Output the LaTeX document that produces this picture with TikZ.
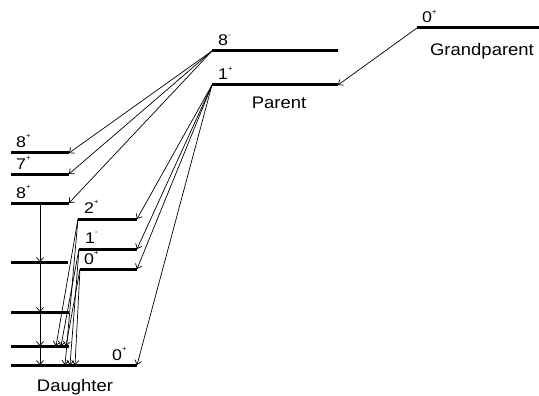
\documentclass[tikz,border=0pt]{standalone}
\usepackage{fontspec}
\setmainfont{Liberation Sans}
\usetikzlibrary{arrows.meta}
\newcommand{\lvlab}[2]{\scalebox{1.15}[1]{#1}\raisebox{1.0ex}{\fontsize{7.5}{7.5}\selectfont #2}}
\newcommand{\ttl}[1]{\scalebox{1.1}[1]{#1}}
\tikzset{
  level/.style={line width=3pt},
  trans/.style={line width=0.7pt,-{Straight Barb[length=4pt,width=7pt]}},
  lab/.style={anchor=base west,inner sep=0pt,font=\fontsize{15.5}{18}\selectfont},
  title/.style={anchor=base,inner sep=0pt,font=\fontsize{16.8}{20}\selectfont}
}
\begin{document}
\begin{tikzpicture}[x=1pt,y=-1pt]
\useasboundingbox (0,0) rectangle (539,396);
% grandparent
\coordinate (gpL) at (417,28); \coordinate (gpR) at (539,28);
% parent
\coordinate (p8L) at (212,51); \coordinate (p8R) at (338,51);
\coordinate (p1L) at (212,85); \coordinate (p1R) at (338,85);
% daughter left column
\coordinate (da1L) at (11,153); \coordinate (da1R) at (69,153);
\coordinate (da2L) at (11,174); \coordinate (da2R) at (69,174);
\coordinate (da3L) at (11,203); \coordinate (da3R) at (69,203);
\coordinate (da4L) at (11,262); \coordinate (da4R) at (68,262);
\coordinate (da5L) at (11,312); \coordinate (da5R) at (69,312);
\coordinate (da6L) at (11,346); \coordinate (da6R) at (69,346);
\coordinate (g0L) at (11,365); \coordinate (g0R) at (137,365);
% daughter second column
\coordinate (db1L) at (78,219); \coordinate (db1R) at (137,219);
\coordinate (db2L) at (79,249); \coordinate (db2R) at (137,249);
\coordinate (db3L) at (80,269); \coordinate (db3R) at (137,269);

\foreach \a in {gp,p8,p1,da1,da2,da3,da4,da5,da6,g0,db1,db2,db3}
  \draw[level] (\a L) -- (\a R);

% labels
\node[lab] (lgp) at (422,23) {\lvlab{0}{+}};
\node[title] (tgp) at (482,56) {\ttl{Grandparent}};
\node[lab] (lp8) at (218,46) {\lvlab{8}{-}};
\node[lab] (lp1) at (218,80) {\lvlab{1}{+}};
\node[title] (tp) at (279,109) {\ttl{Parent}};
\node[lab] (lda1) at (16,147) {\lvlab{8}{+}};
\node[lab] (lda2) at (16,169) {\lvlab{7}{+}};
\node[lab] (lda3) at (16,198) {\lvlab{8}{+}};
\node[lab] (ldb1) at (84,213) {\lvlab{2}{+}};
\node[lab] (ldb2) at (85,243) {\lvlab{1}{-}};
\node[lab] (ldb3) at (84,264) {\lvlab{0}{+}};
\node[lab] (lg0) at (112,360) {\lvlab{0}{+}};
\node[title] (td) at (75,391) {\ttl{Daughter}};

% grandparent decay
\draw[trans] (gpL) -- (p1R);
% 8- decays
\foreach \t in {da1,da2,da3} \draw[trans] (p8L) -- (\t R);
% 1+ decays
\foreach \t in {db1,db2,db3,g0} \draw[trans] (p1L) -- (\t R);
% cascade
\coordinate (c3) at (40,203); \coordinate (c4) at (40,262);
\coordinate (c5) at (40,312); \coordinate (c6) at (40,346);
\coordinate (c7) at (40,365);
\draw[trans] (c3) -- (c4);
\draw[trans] (c4) -- (c5);
\draw[trans] (c5) -- (c6);
\draw[trans] (c6) -- (c7);
% second column gammas
\coordinate (e1a) at (56,346); \coordinate (e2a) at (61,346); \coordinate (e3a) at (66,346);
\coordinate (e1b) at (65,365); \coordinate (e2b) at (70,365); \coordinate (e3b) at (75,365);
\draw[trans] (db1L) -- (e1a);
\draw[trans] (db1L) -- (e1b);
\draw[trans] (db2L) -- (e2a);
\draw[trans] (db2L) -- (e2b);
\draw[trans] (db3L) -- (e3a);
\draw[trans] (db3L) -- (e3b);
\end{tikzpicture}
\end{document}
